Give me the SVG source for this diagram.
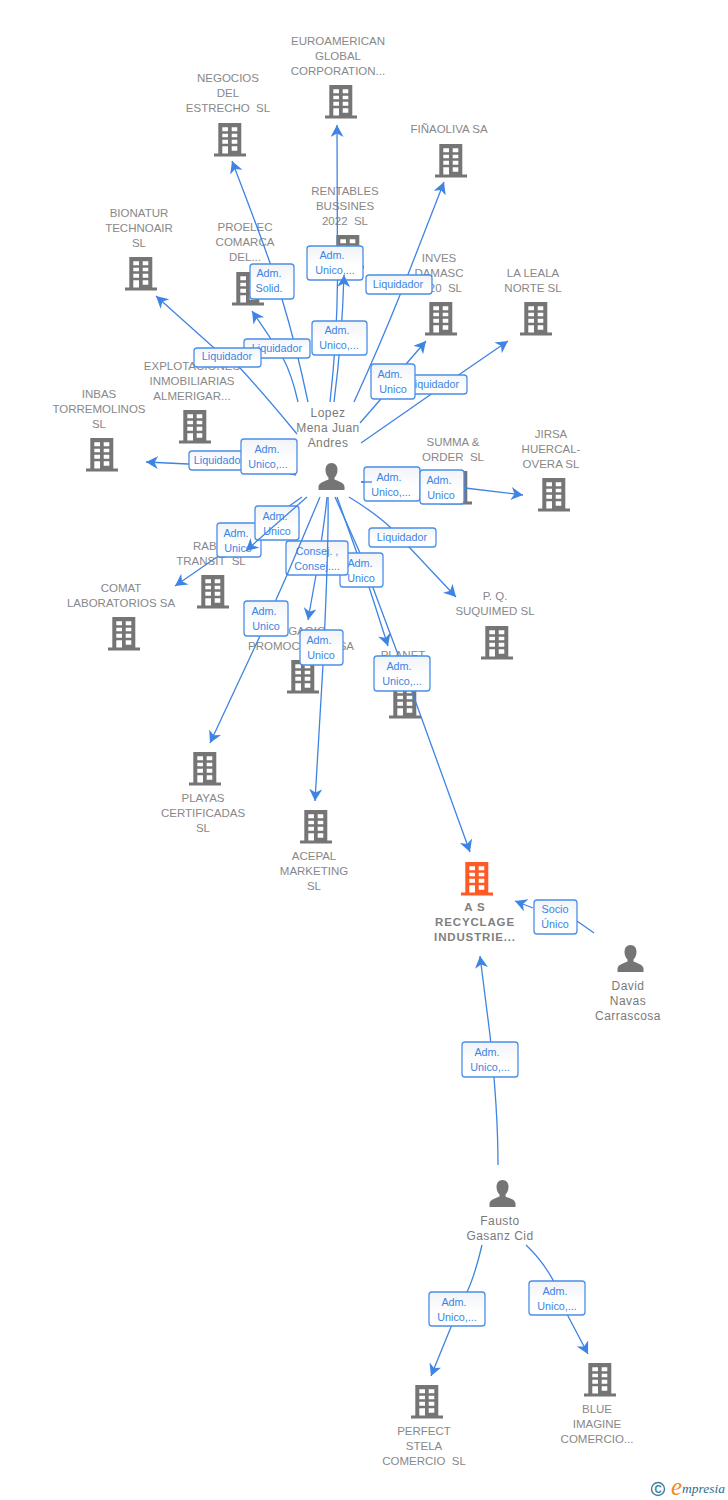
<svg xmlns="http://www.w3.org/2000/svg" width="728" height="1500" viewBox="0 0 728 1500">
<style>
text{font-family:"Liberation Sans",Arial,sans-serif;white-space:pre}
.t{font-size:11.5px;fill:#888;text-anchor:middle}
.p{font-size:12px;fill:#7a7a7a;text-anchor:middle;letter-spacing:.45px}
.a{font-size:11.5px;fill:#7f7f7f;text-anchor:middle;font-weight:bold;letter-spacing:.85px}
.e{fill:none;stroke:#3d84e4;stroke-width:1.3;marker-end:url(#h)}
.s{fill:none;stroke:#3d84e4;stroke-width:1.3}
.b{fill:url(#g);stroke:#4a8ee8;stroke-width:1.3}
.l{font-size:10.8px;fill:#3d84e4;text-anchor:middle}
.bld{fill:#757575}
.or{fill:#ff5a26}
</style>
<defs>
<linearGradient id="g" x1="0" y1="0" x2="0" y2="1"><stop offset="0" stop-color="#f1f3f7"/><stop offset=".6" stop-color="#fff"/></linearGradient>
<marker id="h" markerUnits="userSpaceOnUse" markerWidth="14" markerHeight="14" refX="12" refY="6.5" orient="auto"><path d="M0,0L12,6.5L0,13L3.5,6.5z" fill="#3d84e4"/></marker>
<symbol id="bd" viewBox="0 0 32 34" width="32" height="34">
<path fill-rule="evenodd" d="M4.3,0H27.3V30.5H32V33.5H0V30.5H4.3ZM8.3,4.3V8.3H14V4.3ZM17.7,4.3V8.3H23.3V4.3ZM8.3,10.7V14.3H14V10.7ZM17.7,10.7V14.3H23.3V10.7ZM8.3,16.7V20.7H14V16.7ZM17.7,16.7V20.7H23.3V16.7ZM8.3,23.3V30.5H14V23.3ZM17.7,23.3V27.7H23.3V23.3Z"/>
</symbol>
<symbol id="pr" viewBox="0 0 27 27" width="27" height="27">
<path fill="#757575" d="M13.5,0C17.5,0 19.5,3 19.5,7C19.5,10.5 18,13 16.5,14.5V16.5C19,18 26,19 26.5,23.5V27H0.5V23.5C1,19 8,18 10.5,16.5V14.5C9,13 7.5,10.5 7.5,7C7.5,3 9.5,0 13.5,0Z"/>
</symbol>
</defs>
<rect width="728" height="1500" fill="#fff"/>

<g id="nodes">
<g id="n-euroamerican"><use href="#bd" class="bld" x="325" y="85"/><text class="t" y="45"><tspan x="338">EUROAMERICAN</tspan><tspan x="338" dy="15">GLOBAL</tspan><tspan x="338" dy="15">CORPORATION...</tspan></text></g>
<g id="n-negocios"><use href="#bd" class="bld" x="214" y="123"/><text class="t" y="82"><tspan x="228">NEGOCIOS</tspan><tspan x="228" dy="15">DEL</tspan><tspan x="228" dy="15">ESTRECHO  SL</tspan></text></g>
<g id="n-finaoliva"><use href="#bd" class="bld" x="435" y="144"/><text class="t" x="449" y="133">FIÑAOLIVA SA</text></g>
<g id="n-rentables"><use href="#bd" class="bld" x="332" y="235"/><text class="t" y="195"><tspan x="345">RENTABLES</tspan><tspan x="345" dy="15">BUSSINES</tspan><tspan x="345" dy="15">2022  SL</tspan></text></g>
<g id="n-bionatur"><use href="#bd" class="bld" x="125" y="257"/><text class="t" y="217"><tspan x="139">BIONATUR</tspan><tspan x="139" dy="15">TECHNOAIR</tspan><tspan x="139" dy="15">SL</tspan></text></g>
<g id="n-proelec"><use href="#bd" class="bld" x="232" y="272"/><text class="t" y="231"><tspan x="245">PROELEC</tspan><tspan x="245" dy="15">COMARCA</tspan><tspan x="245" dy="15">DEL...</tspan></text></g>
<g id="n-inves"><use href="#bd" class="bld" x="425" y="302"/><text class="t" y="262"><tspan x="439">INVES</tspan><tspan x="439" dy="15">DAMASC</tspan></text><text class="t" x="462" y="292" style="text-anchor:end">20  SL</text></g>
<g id="n-laleala"><use href="#bd" class="bld" x="520" y="302"/><text class="t" y="277"><tspan x="533">LA LEALA</tspan><tspan x="533" dy="15">NORTE SL</tspan></text></g>
<g id="n-explotaciones"><use href="#bd" class="bld" x="179" y="410"/><text class="t" y="370"><tspan x="192">EXPLOTACIONES</tspan><tspan x="192" dy="15">INMOBILIARIAS</tspan><tspan x="192" dy="15">ALMERIGAR...</tspan></text></g>
<g id="n-inbas"><use href="#bd" class="bld" x="86" y="438"/><text class="t" y="398"><tspan x="99">INBAS</tspan><tspan x="99" dy="15">TORREMOLINOS</tspan><tspan x="99" dy="15">SL</tspan></text></g>
<g id="n-summa"><use href="#bd" class="bld" x="440" y="471"/><text class="t" y="446"><tspan x="453">SUMMA &amp;</tspan><tspan x="453" dy="15">ORDER  SL</tspan></text></g>
<g id="n-jirsa"><use href="#bd" class="bld" x="538" y="478"/><text class="t" y="438"><tspan x="551">JIRSA</tspan><tspan x="551" dy="15">HUERCAL-</tspan><tspan x="551" dy="15">OVERA SL</tspan></text></g>
<g id="n-rab"><use href="#bd" class="bld" x="197" y="575"/><text class="t" x="193" y="550" style="text-anchor:start">RAB</text><text class="t" x="211" y="565">TRANSIT  SL</text></g>
<g id="n-comat"><use href="#bd" class="bld" x="108" y="617"/><text class="t" y="592"><tspan x="121">COMAT</tspan><tspan x="121" dy="15">LABORATORIOS SA</tspan></text></g>
<g id="n-pq"><use href="#bd" class="bld" x="481" y="626"/><text class="t" y="600"><tspan x="495">P. Q.</tspan><tspan x="495" dy="15">SUQUIMED SL</tspan></text></g>
<g id="n-gagio"><use href="#bd" class="bld" x="287" y="660"/><text class="t" x="307" y="635">GAGIO</text><text class="t" x="248" y="650" style="text-anchor:start">PROMOC</text><text class="t" x="354" y="650" style="text-anchor:end">SA</text></g>
<g id="n-planet"><use href="#bd" class="bld" x="389" y="685"/><text class="t" x="403" y="659">PLANET</text></g>
<g id="n-playas"><use href="#bd" class="bld" x="189" y="752"/><text class="t" y="802"><tspan x="203">PLAYAS</tspan><tspan x="203" dy="15">CERTIFICADAS</tspan><tspan x="203" dy="15">SL</tspan></text></g>
<g id="n-acepal"><use href="#bd" class="bld" x="300" y="810"/><text class="t" y="860"><tspan x="314">ACEPAL</tspan><tspan x="314" dy="15">MARKETING</tspan><tspan x="314" dy="15">SL</tspan></text></g>
<g id="n-as"><use href="#bd" class="or" x="461" y="862"/><text class="a" y="911"><tspan x="475">A S</tspan><tspan x="475" dy="15">RECYCLAGE</tspan><tspan x="475" dy="15">INDUSTRIE...</tspan></text></g>
<g id="n-perfect"><use href="#bd" class="bld" x="411" y="1385"/><text class="t" y="1435"><tspan x="424">PERFECT</tspan><tspan x="424" dy="15">STELA</tspan><tspan x="424" dy="15">COMERCIO  SL</tspan></text></g>
<g id="n-blue"><use href="#bd" class="bld" x="584" y="1363"/><text class="t" y="1413"><tspan x="597">BLUE</tspan><tspan x="597" dy="15">IMAGINE</tspan><tspan x="597" dy="15">COMERCIO...</tspan></text></g>
<g id="n-lopez"><use href="#pr" x="318" y="463"/><text class="p" y="417"><tspan x="328">Lopez</tspan><tspan x="328" dy="15">Mena Juan</tspan><tspan x="328" dy="15">Andres</tspan></text></g>
<g id="n-david"><use href="#pr" x="617" y="945"/><text class="p" y="990"><tspan x="628">David</tspan><tspan x="628" dy="15">Navas</tspan><tspan x="628" dy="15">Carrascosa</tspan></text></g>
<g id="n-fausto"><use href="#pr" x="489" y="1180"/><text class="p" y="1225"><tspan x="500">Fausto</tspan><tspan x="500" dy="15">Gasanz Cid</tspan></text></g>
</g>

<g id="connectors">
<g><path class="e" d="M308,402Q296,345 282,299Q272,265 232,161"/><rect class="b" x="250" y="264" width="44" height="35" rx="3"/><text class="l"><tspan x="269" y="277">Adm.</tspan><tspan x="269" y="292">Solid.</tspan></text></g>
<g><path class="e" d="M330,402Q337,340 337.5,280L337,125"/><rect class="b" x="307" y="246" width="56" height="34" rx="3"/><text class="l"><tspan x="332" y="259">Adm.</tspan><tspan x="335" y="274">Unico,...</tspan></text></g>
<g><path class="e" d="M298,402Q292,375 283,358Q276,346 252,311"/><rect class="b" x="244" y="339" width="66" height="19" rx="3"/><text class="l" x="277" y="352">Liquidador</text></g>
<g><path class="e" d="M334,402Q342,340 344,275"/><rect class="b" x="312" y="321" width="55" height="34" rx="3"/><text class="l"><tspan x="337" y="334">Adm.</tspan><tspan x="339" y="349">Unico,...</tspan></text></g>
<g><path class="e" d="M297,434Q265,395 240,368Q225,355 213,347L156,296"/><rect class="b" x="194" y="348" width="67" height="19" rx="3"/><text class="l" x="227" y="360">Liquidador</text></g>
<g><path class="e" d="M354,402Q380,345 400,295L444,182"/><rect class="b" x="366" y="275" width="66" height="19" rx="3"/><text class="l" x="398" y="288">Liquidador</text></g>
<g><path class="e" d="M361,443L430,395L460,374L508,341"/><rect class="b" x="400" y="375" width="67" height="19" rx="3"/><text class="l" x="434" y="388">Liquidador</text></g>
<g><path class="e" d="M360,423L380,400L407,363L426,341"/><rect class="b" x="371" y="364" width="44" height="35" rx="3"/><text class="l"><tspan x="390" y="378">Adm.</tspan><tspan x="393" y="393">Unico</tspan></text></g>
<g><path class="e" d="M296,475L260,467L188,464L146,462"/><rect class="b" x="189" y="451" width="66" height="19" rx="3"/><text class="l" x="219" y="464">Liquidador</text></g>
<g><rect class="b" x="241" y="439" width="56" height="35" rx="3"/><text class="l"><tspan x="267" y="453">Adm.</tspan><tspan x="268" y="468">Unico,...</tspan></text></g>
<g><path class="e" d="M361,482L423,487"/><rect class="b" x="364" y="467" width="56" height="34" rx="3"/><text class="l"><tspan x="389" y="481">Adm.</tspan><tspan x="391" y="496">Unico,...</tspan></text></g>
<g><path class="s" d="M361,482L372,482"/><path class="e" d="M420,486L465,488L523,495"/><rect class="b" x="420" y="470" width="44" height="34" rx="3"/><text class="l"><tspan x="439" y="484">Adm.</tspan><tspan x="441" y="499">Unico</tspan></text></g>
<g><path class="e" d="M302,497L217,557L175,586"/><rect class="b" x="217" y="523" width="44" height="34" rx="3"/><text class="l"><tspan x="236" y="537">Adm.</tspan><tspan x="238" y="552">Unico</tspan></text></g>
<g><rect class="b" x="255" y="506" width="44" height="34" rx="3"/><text class="l"><tspan x="275" y="520">Adm.</tspan><tspan x="277" y="535">Unico</tspan></text><path class="e" d="M307,497L258,540L246,551"/></g>
<g><path class="e" d="M335,497L360,553L415,700L470,852"/><path class="e" d="M337,497L370,590L388,646"/><rect class="b" x="340" y="553" width="43" height="34" rx="3"/><text class="l"><tspan x="360" y="567">Adm.</tspan><tspan x="361" y="582">Unico</tspan></text></g>
<g><path class="e" d="M327,497Q325,520 316,575L308,620"/><rect class="b" x="286" y="541" width="62" height="34" rx="3"/><text class="l"><tspan x="317" y="555">Consej. ,</tspan><tspan x="317" y="570">Consej....</tspan></text></g>
<g><path class="e" d="M349,497Q375,513 390,527Q405,545 410,548L456,597"/><rect class="b" x="369" y="528" width="67" height="19" rx="3"/><text class="l" x="402" y="541">Liquidador</text></g>
<g><path class="e" d="M320,497L287,575L260,636L210,743"/><rect class="b" x="244" y="601" width="44" height="35" rx="3"/><text class="l"><tspan x="264" y="615">Adm.</tspan><tspan x="266" y="630">Unico</tspan></text></g>
<g><path class="e" d="M328,497Q329,540 323,665L315,801"/><rect class="b" x="300" y="630" width="43" height="35" rx="3"/><text class="l"><tspan x="319" y="644">Adm.</tspan><tspan x="321" y="659">Unico</tspan></text></g>
<g><rect class="b" x="374" y="656" width="56" height="35" rx="3"/><text class="l"><tspan x="399" y="670">Adm.</tspan><tspan x="402" y="685">Unico,...</tspan></text></g>
<g><path class="e" d="M594,933L577,921M533,908L515,901"/><rect class="b" x="534" y="900" width="43" height="34" rx="3"/><text class="l"><tspan x="555" y="913">Socio</tspan><tspan x="555" y="928">Único</tspan></text></g>
<g><path class="e" d="M498,1165Q498,1110 490,1035L480,956"/><rect class="b" x="462" y="1042" width="56" height="35" rx="3"/><text class="l"><tspan x="487" y="1056">Adm.</tspan><tspan x="490" y="1071">Unico,...</tspan></text></g>
<g><path class="e" d="M482,1245Q475,1275 467,1292L451,1327L431,1376"/><rect class="b" x="429" y="1292" width="56" height="34" rx="3"/><text class="l"><tspan x="454" y="1306">Adm.</tspan><tspan x="457" y="1321">Unico,...</tspan></text></g>
<g><path class="e" d="M526,1245Q542,1260 553,1280L568,1316L588,1354"/><rect class="b" x="529" y="1281" width="56" height="34" rx="3"/><text class="l"><tspan x="555" y="1295">Adm.</tspan><tspan x="557" y="1310">Unico,...</tspan></text></g>
</g>

<g id="logo">
<circle cx="658" cy="1489" r="6.5" fill="none" stroke="#3e7f9c" stroke-width="1.4"/>
<text x="658" y="1492.5" style="font-size:10px;fill:#3e7f9c;text-anchor:middle;font-weight:bold">C</text>
<text x="671" y="1495" style="font-family:'Liberation Serif',serif;font-size:25px;font-style:italic;fill:#f58a1f">e</text>
<text x="682" y="1493" style="font-family:'Liberation Serif',serif;font-size:13.5px;font-style:italic;fill:#2c6e8c">mpresia</text>
</g>
</svg>
